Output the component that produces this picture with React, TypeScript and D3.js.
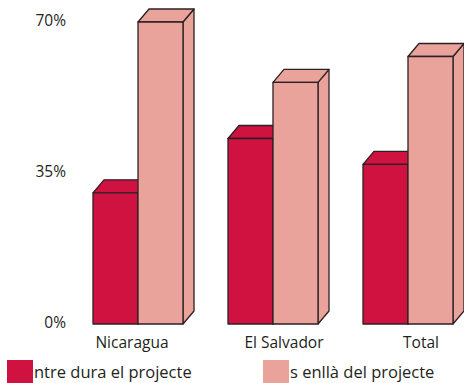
import * as d3 from "d3";

const categories = ["Nicaragua", "El Salvador", "Total"];
const seriesNames = ["Mentre dura el projecte", "Més enllà del projecte"];
const legendLabels = ["ntre dura el projecte", "s enllà del projecte"];
const duringValues = [30.4, 43, 37];
const beyondValues = [70, 56, 62];
const tickValues = [0, 35, 70];

const W = 464;
const H = 383;
const colors = ["#d01240", "#e9a39b"];
const stroke = "#2b2024";
const font = "'Open Sans', sans-serif";
const depthX = 11;
const depthY = 13;
// the category labels in the original sit a little off the bar centres
const labelShift = [-6, 11, 13];

export default function App() {
  const y = d3.scaleLinear().domain([0, 70]).range([324, 22]);
  const x = d3
    .scaleBand<string>()
    .domain(categories)
    .range([70.5, 475.5])
    .paddingInner(1 / 3)
    .paddingOuter(1 / 6);
  const xs = d3
    .scaleBand<number>()
    .domain([0, 1])
    .range([0, x.bandwidth()]);

  const series = [duringValues, beyondValues];

  const bar = (x0: number, w: number, v: number, fill: string, key: string) => {
    const top = y(v);
    const base = y(0);
    const front = `M${x0},${top}H${x0 + w}V${base}H${x0}Z`;
    const lid = `M${x0},${top}L${x0 + depthX},${top - depthY}H${x0 + w + depthX}L${x0 + w},${top}Z`;
    const side = `M${x0 + w},${top}L${x0 + w + depthX},${top - depthY}V${base - depthY}L${x0 + w},${base}Z`;
    return (
      <g key={key} fill={fill} stroke={stroke} strokeWidth={1.3} strokeLinejoin="round">
        <path d={side} />
        <path d={lid} />
        <path d={front} />
      </g>
    );
  };

  return (
    <svg
      width={W}
      height={H}
      style={{ position: "absolute", left: 0, top: 0, background: "#fff" }}
      fontFamily={font}
    >
      {tickValues.map((t) => (
        <text
          key={t}
          x={66}
          y={y(t) - 2}
          textAnchor="end"
          dominantBaseline="central"
          fontSize={15.5}
          fill="#231f20"
        >
          {`${t}%`}
        </text>
      ))}
      {categories.map((c, i) => (
        <g key={c}>
          {series.map((s, j) =>
            bar((x(c) ?? 0) + (xs(j) ?? 0), xs.bandwidth(), s[i], colors[j], `${c}-${j}`)
          )}
        </g>
      ))}
      {categories.map((c, i) => (
        <text
          key={c}
          x={(x(c) ?? 0) + x.bandwidth() / 2 + labelShift[i]}
          y={348}
          textAnchor="middle"
          fontSize={15.5}
          fill="#231f20"
        >
          {c}
        </text>
      ))}
      {seriesNames.map((n, j) => (
        <g key={n} transform={`translate(${j === 0 ? 7 : 263},360)`}>
          <rect width={26} height={23} fill={colors[j]} />
          <text x={27} y={18} fontSize={16.5} fill="#231f20">
            {legendLabels[j]}
          </text>
        </g>
      ))}
    </svg>
  );
}
